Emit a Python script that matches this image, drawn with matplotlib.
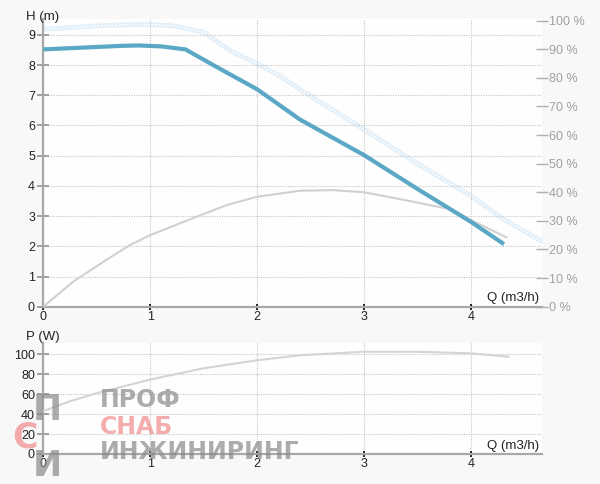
import matplotlib
matplotlib.use("Agg")
import matplotlib.pyplot as plt

plt.rcParams['font.family'] = ['Liberation Sans', 'DejaVu Sans']

# ---- data ----
q_head = [0, 0.25, 0.5, 0.75, 0.9, 1.1, 1.33, 1.6, 2.0, 2.4, 3.0, 3.5, 4.0, 4.31]
head = [8.52, 8.56, 8.6, 8.64, 8.65, 8.62, 8.52, 7.98, 7.2, 6.2, 5.02, 3.9, 2.81, 2.07]

q_eff = [0, 0.5, 0.9, 1.2, 1.5, 1.75, 2.0, 2.2, 2.4, 3.0, 3.5, 4.0, 4.3, 4.66]
eff = [97, 98.2, 98.7, 98.3, 96, 89.5, 85, 81, 76, 62, 50, 38.8, 30.7, 23]

q_npsh = [0, 0.28, 0.59, 0.81, 1.0, 1.37, 1.72, 2.0, 2.4, 2.71, 3.0, 3.34, 3.82, 4.0, 4.33]
npsh = [0, 0.83, 1.55, 2.04, 2.37, 2.89, 3.37, 3.64, 3.84, 3.86, 3.79, 3.56, 3.22, 2.87, 2.3]

q_pow = [0, 0.25, 0.5, 1.0, 1.5, 2.0, 2.4, 3.0, 3.5, 4.0, 4.35]
power = [43, 53, 61, 74.7, 86, 94, 99, 102.6, 102.5, 101, 97.6]

x_ticks = [0, 1, 2, 3, 4]
h_ticks = [0, 1, 2, 3, 4, 5, 6, 7, 8, 9]
pct_ticks = [0, 10, 20, 30, 40, 50, 60, 70, 80, 90, 100]
p_ticks = [0, 20, 40, 60, 80, 100]

W, H = 600, 484
fig = plt.figure(figsize=(6, 4.84), dpi=100, facecolor='#f8f8f8')

def px(x0, y_top, x1, y_bot):
    return [x0 / W, 1 - y_bot / H, (x1 - x0) / W, (y_bot - y_top) / H]

grid_kw = dict(color='#c4c4c4', lw=0.8, linestyle=(0, (1, 1.2)))

def style_axes(ax, yt):
    ax.set_facecolor('#fefefe')
    for s in ['top', 'right']:
        ax.spines[s].set_visible(False)
    ax.spines['left'].set_color('#a8a8a8')
    ax.spines['left'].set_linewidth(1.6)
    ax.spines['bottom'].set_color('#a8a8a8')
    ax.spines['bottom'].set_linewidth(1.6)
    ax.set_xticks(x_ticks)
    ax.set_yticks(yt)
    ax.tick_params(axis='y', direction='inout', length=8, width=1.4, color='#a0a0a0',
                   labelsize=9, labelcolor='#222222', pad=2)
    ax.tick_params(axis='x', direction='inout', length=4.5, width=1.4, color='#222222',
                   labelsize=9, labelcolor='#222222', pad=0.5)
    ax.grid(True, **grid_kw)
    ax.set_axisbelow(True)

# ---- top chart ----
ax = fig.add_axes(px(43.3, 19, 541.7, 306.7))
style_axes(ax, h_ticks)
ax.set_xlim(0, (541.7 - 43.3) / 106.9)
ax.set_ylim(0, (306.7 - 19) / 30.2)

ax2 = ax.twinx()
for s in ['top', 'right', 'left', 'bottom']:
    ax2.spines[s].set_visible(False)
ax2.set_ylim(0, (306.7 - 19) / 2.86)
ax2.set_yticks(pct_ticks)
ax2.set_yticklabels([f"{t} %" for t in pct_ticks])
ax2.tick_params(axis='y', direction='inout', length=8, width=1.0, color='#b0b0b0',
                labelsize=9, labelcolor='#a0a0a0', pad=1)

ax2.plot(q_eff, eff, color='#e2eff8', lw=3.4, zorder=2, solid_joinstyle='round')
ax2.plot(q_eff, eff, color='#fbfdff', lw=1.3, linestyle=(0, (1, 1)), zorder=2)
ax.set_zorder(ax2.get_zorder() + 1)
ax.patch.set_visible(False)
ax2.patch.set_visible(True)
ax2.patch.set_facecolor('#fefefe')
ax.plot(q_npsh, npsh, color='#d0d0d0', lw=1.5, zorder=3)
ax.plot(q_head, head, color='#5aa8c5', lw=3, zorder=4, solid_capstyle='butt')

fig.text(26 / W, 1 - 17 / H, "H (m)", fontsize=9.5, color='#222222', va='center', ha='left')
ax.text(0.995, 0.008, "Q (m3/h)", transform=ax.transAxes, ha='right', va='bottom',
        fontsize=9.5, color='#222222')

# ---- bottom chart ----
bx = fig.add_axes(px(43.3, 342.7, 541.7, 454))
style_axes(bx, p_ticks)
bx.set_xlim(0, (541.7 - 43.3) / 106.9)
bx.set_ylim(0, (454 - 342.7) / 0.997)
bx.plot(q_pow, power, color='#d4d4d4', lw=1.5, zorder=3)
fig.text(26 / W, 1 - 337 / H, "P (W)", fontsize=9.5, color='#222222', va='center', ha='left')
bx.text(0.995, 0.02, "Q (m3/h)", transform=bx.transAxes, ha='right', va='bottom',
        fontsize=9.5, color='#222222')

# ---- watermark ----
wm = dict(fontweight='bold', family='DejaVu Sans', zorder=10, alpha=0.7)
fig.text(100 / W, 1 - 407 / H, "ПРОФ", fontsize=17, color='#8a8a8a', ha='left', va='baseline', **wm)
fig.text(100 / W, 1 - 434 / H, "СНАБ", fontsize=17, color='#f08a8a', ha='left', va='baseline', **wm)
fig.text(100 / W, 1 - 459 / H, "ИНЖИНИРИНГ", fontsize=17, color='#8a8a8a', ha='left', va='baseline', **wm)
fig.text(33 / W, 1 - 420 / H, "П", fontsize=25, color='#8a8a8a', ha='left', va='baseline', **wm)
fig.text(12 / W, 1 - 447 / H, "С", fontsize=25, color='#f08a8a', ha='left', va='baseline', **wm)
fig.text(33 / W, 1 - 476 / H, "И", fontsize=25, color='#8a8a8a', ha='left', va='baseline', **wm)

fig.savefig("out.png", dpi=100, facecolor=fig.get_facecolor())
